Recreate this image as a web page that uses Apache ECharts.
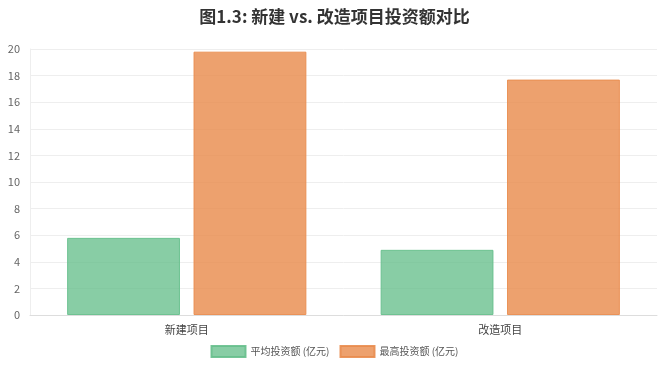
<!DOCTYPE html>
<html><head><meta charset="utf-8">
<script src="https://cdn.jsdelivr.net/npm/echarts@6/dist/echarts.min.js"></script>
<style>html,body{margin:0;padding:0;background:#fff}#c{width:669px;height:366px}</style>
</head><body><div id="c"></div>
<script>
const categories = ['新建项目', '改造项目'];
const avgInvest = [5.8, 4.9];
const maxInvest = [19.8, 17.7];
const seriesNames = ['平均投资额 (亿元)', '最高投资额 (亿元)'];
const font = '"Noto Sans CJK SC", "Noto Sans", sans-serif';
const chart = echarts.init(document.getElementById('c'));
chart.setOption({
  animation: false,
  textStyle: { fontFamily: font },
  title: { text: '图1.3: 新建 vs. 改造项目投资额对比', left: 'center', top: 3,
    textStyle: { fontSize: 17, fontWeight: 'bold', color: '#333', fontFamily: font } },
  legend: { bottom: 3, icon: 'rect', itemWidth: 34, itemHeight: 11, itemGap: 10,
    textStyle: { fontSize: 10, color: '#555', fontFamily: font } },
  grid: { left: 30, right: 12, top: 49, bottom: 51 },
  xAxis: { type: 'category', data: categories,
    axisLine: { lineStyle: { color: '#ddd' } }, axisTick: { show: false },
    axisLabel: { color: '#444', fontSize: 11, margin: 9 } },
  yAxis: { type: 'value', min: 0, max: 20, interval: 2,
    axisLine: { show: true, lineStyle: { color: '#eee' } },
    splitLine: { lineStyle: { color: '#eee' } },
    axisLabel: { color: '#666', fontSize: 11, margin: 10 } },
  series: [
    { name: seriesNames[0], type: 'bar', data: avgInvest, barWidth: '36%', barGap: '12%',
      itemStyle: { color: 'rgba(102,191,140,0.78)', borderColor: 'rgba(102,191,140,0.9)', borderWidth: 1 } },
    { name: seriesNames[1], type: 'bar', data: maxInvest, barWidth: '36%',
      itemStyle: { color: 'rgba(233,140,78,0.82)', borderColor: 'rgba(233,140,78,0.9)', borderWidth: 1 } }
  ]
});
</script></body></html>
